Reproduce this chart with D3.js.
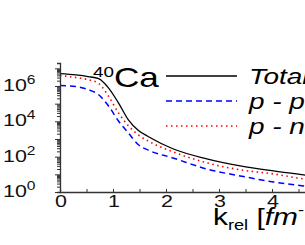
<!DOCTYPE html>
<html>
<head>
<meta charset="utf-8">
<script src="https://cdnjs.cloudflare.com/ajax/libs/d3/7.8.5/d3.min.js"></script>
<style>
  body { margin: 0; background: #fff; }
  svg text { font-family: Arial, "Liberation Sans", sans-serif; }
</style>
</head>
<body>
<div id="chart"></div>
<script>
// k_rel grid (fm^-1)
var krel = [0, 0.3, 0.53, 0.73, 0.91, 1.1, 1.29, 1.48, 1.67, 2.13, 2.77, 3.4, 4.03, 4.6, 5.0];

// series
var total = [5.0e6, 4.2e6, 3.4e6, 2.6e6, 8.1e5, 1.15e5, 1.2e4, 3.0e3, 1.35e3, 280, 75, 30, 15.5, 9.3, 6.6];
var pp    = [1.05e6, 9.3e5, 6.3e5, 3.2e5, 7.8e4, 1.07e4, 2.2e3, 470, 230, 85, 20, 8.1, 3.7, 2.2, 1.6];
var pn    = [3.9e6, 3.0e6, 2.3e6, 1.4e6, 2.8e5, 3.1e4, 5.6e3, 1.7e3, 750, 190, 45, 18, 10.5, 5.5, 4.0];

var xTicks = [0, 1, 2, 3, 4, 5];
var yExps = [0, 2, 4, 6];

var series = [
  {name: "Total", values: total, color: "#000", dash: null, width: 1.3},
  {name: "p - p", values: pp, color: "#0000ff", dash: "6,4", width: 1.5},
  {name: "p - n", values: pn, color: "#ff0000", dash: "1.5,3.5", width: 1.6}
];

var width = 305, height = 245;
var sx = 1.3; // text in the figure is stretched sideways

var xScale = d3.scaleLinear().domain([0, 5]).range([60, 325]),
    yScale = d3.scaleLog().domain([1, 2e7]).range([192, 63]);

var svg = d3.select("#chart").append("svg")
    .attr("width", width)
    .attr("height", height);

function place(x, y) { return "translate(" + x + "," + y + ") scale(" + sx + ",1)"; }

// curves
var line = d3.line()
    .x(function(d) { return xScale(d[0]); })
    .y(function(d) { return yScale(d[1]); })
    .curve(d3.curveMonotoneX);

svg.append("g")
  .selectAll("path")
  .data(series)
  .enter().append("path")
    .attr("fill", "none")
    .attr("stroke", function(d) { return d.color; })
    .attr("stroke-width", function(d) { return d.width; })
    .attr("stroke-dasharray", function(d) { return d.dash; })
    .attr("d", function(d) { return line(krel.map(function(k, i) { return [k, d.values[i]]; })); });

// x axis
var xAxis = d3.axisBottom(xScale).tickValues(d3.range(0, 5.01, 0.5)).tickSize(-3).tickFormat("");
var gx = svg.append("g")
    .attr("transform", "translate(0,192)")
    .call(xAxis);
gx.select(".domain").attr("stroke", "#333").attr("stroke-width", 1.3);
gx.selectAll(".tick line").attr("stroke", "#333");

svg.append("g")
  .selectAll("text")
  .data(xTicks)
  .enter().append("text")
    .attr("transform", function(d) { return place(xScale(d) + 1, 207); })
    .attr("text-anchor", "middle")
    .attr("font-size", 16.5)
    .attr("fill", "#111")
    .text(function(d) { return d; });

// y axis with log minor ticks
var yTickVals = [];
for (var e = 0; e < 8; e++) {
  for (var m = 1; m < 10; m++) {
    var v = m * Math.pow(10, e);
    if (v <= 2e7) yTickVals.push(v);
  }
}
var yAxis = d3.axisLeft(yScale).tickValues(yTickVals).tickFormat("")
    .tickSize(3);
var gy = svg.append("g")
    .attr("transform", "translate(60,0)")
    .call(yAxis);
gy.select(".domain").attr("stroke", "#333").attr("stroke-width", 1.3);
gy.selectAll(".tick line")
    .attr("stroke", "#333")
    .attr("x2", function(d) { return Math.abs(Math.log10(d) % 1) < 1e-9 ? -5 : -3; });

var ylab = svg.append("g")
  .selectAll("text")
  .data(yExps)
  .enter().append("text")
    .attr("transform", function(d) { return place(3, yScale(Math.pow(10, d)) + 5); })
    .attr("font-size", 16.5)
    .attr("fill", "#111");
ylab.append("tspan").text("10");
ylab.append("tspan")
    .attr("font-size", 12)
    .attr("dy", -7)
    .text(function(d) { return d; });

// x label
var xl = svg.append("text")
    .attr("transform", place(213, 225))
    .attr("font-size", 23)
    .attr("fill", "#000");
xl.append("tspan").text("k");
xl.append("tspan").attr("font-size", 14).attr("dy", 5).text("rel");
xl.append("tspan").attr("dy", -5).text(" [");
xl.append("tspan").attr("font-style", "italic").text("fm");
xl.append("tspan").attr("font-size", 14).attr("dy", -10).text("-1");
xl.append("tspan").attr("dy", 10).text("]");

// nucleus label
var ca = svg.append("text")
    .attr("transform", place(93, 87))
    .attr("font-size", 27)
    .attr("fill", "#000");
ca.append("tspan").attr("font-size", 14.5).attr("dy", -10).text("40");
ca.append("tspan").attr("dy", 10).text("Ca");

// legend
var legend = svg.append("g")
  .selectAll("g")
  .data(series)
  .enter().append("g")
    .attr("transform", function(d, i) { return "translate(0," + (76 + i * 25) + ")"; });

legend.append("line")
    .attr("x1", 166).attr("x2", 237)
    .attr("stroke", function(d) { return d.color; })
    .attr("stroke-width", function(d) { return d.width; })
    .attr("stroke-dasharray", function(d) { return d.dash; });

legend.append("text")
    .attr("transform", place(249, 8))
    .attr("font-size", 21.5)
    .attr("font-style", "italic")
    .attr("fill", "#000")
    .text(function(d) { return d.name; });
</script>
</body>
</html>
